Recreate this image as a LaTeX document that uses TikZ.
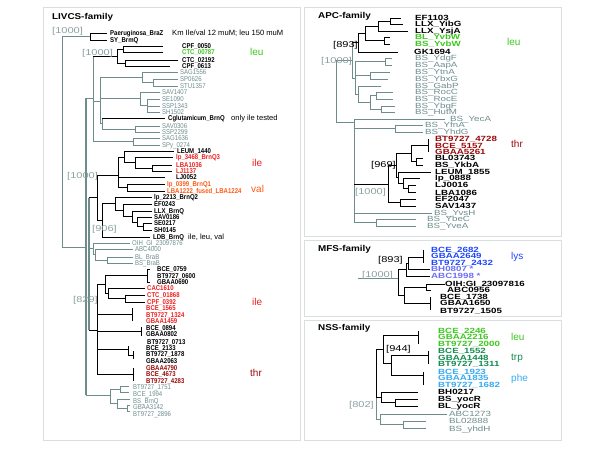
\documentclass[tikz,border=0pt]{standalone}
\usepackage{fontspec}
\setmainfont{Liberation Sans}
\newfontfamily\lfam[FakeStretch=0.86]{Liberation Sans}
\newfontfamily\rfam[FakeStretch=1.3]{Liberation Sans}
\newfontfamily\tfam[FakeStretch=1.16]{Liberation Sans}
\newfontfamily\afam{Liberation Sans}
\newcommand\lfb{\lfam\bfseries\fontsize{7}{8}\selectfont}
\newcommand\lfr{\lfam\fontsize{7}{8}\selectfont}
\newcommand\rfb{\rfam\bfseries\fontsize{7.5}{8}\selectfont}
\newcommand\rfr{\rfam\fontsize{7.5}{8}\selectfont}
\newcommand\brf{\rfam\fontsize{8.5}{9}\selectfont}
\newcommand\tf{\tfam\bfseries\fontsize{8.5}{9}\selectfont}
\newcommand\anf{\afam\fontsize{10}{11}\selectfont}
\newcommand\txf{\afam\fontsize{7.6}{8}\selectfont}
\definecolor{lg}{HTML}{6E8C8C}
\definecolor{bg}{HTML}{8CA0A0}
\definecolor{brd}{HTML}{D9DEDE}
\definecolor{leug}{HTML}{3CC81E}
\definecolor{iler}{HTML}{F01E1E}
\definecolor{valo}{HTML}{FF5A14}
\definecolor{thrr}{HTML}{9B0A0A}
\definecolor{lysb}{HTML}{1E46FF}
\definecolor{lysv}{HTML}{6E6EF5}
\definecolor{trpg}{HTML}{148C50}
\definecolor{pheb}{HTML}{37AAF0}
\newcounter{nn}
% label: [style]{colour}{x,y}{text}
\newcommand\lbl[4][L]{\stepcounter{nn}\node[#1,text=#2] (n\arabic{nn}) at (#3) {#4};}
\tikzset{
  b/.style={draw=black,line width=0.7pt},
  g/.style={draw=lg,line width=0.7pt},
  gk/.style={draw=lg,line width=1.3pt},
  panel/.style={draw=brd,line width=0.8pt},
  L/.style={anchor=base west,inner sep=0pt,yshift=-2.4pt,font=\lfb},
  LG/.style={anchor=base west,inner sep=0pt,yshift=-2.4pt,font=\lfr},
  R/.style={anchor=base west,inner sep=0pt,yshift=-2.6pt,font=\rfb},
  RG/.style={anchor=base west,inner sep=0pt,yshift=-2.6pt,font=\rfr},
  BR/.style={anchor=base west,inner sep=0pt,yshift=-3pt,font=\brf},
  TT/.style={anchor=base west,inner sep=0pt,yshift=-3pt,font=\tf},
  AN/.style={anchor=base west,inner sep=0pt,yshift=-3.5pt,font=\anf},
  TX/.style={anchor=base west,inner sep=0pt,yshift=-2.6pt,font=\txf},
}
\begin{document}
\begin{tikzpicture}[x=1pt,y=-1pt]
\useasboundingbox (0,0) rectangle (600,450);
% panels
\node[panel,minimum width=257pt,minimum height=433pt,anchor=north west,inner sep=0pt] (p1) at (43,7) {};
\node[panel,minimum width=257pt,minimum height=229pt,anchor=north west,inner sep=0pt] (p2) at (304,7) {};
\node[panel,minimum width=257pt,minimum height=76pt,anchor=north west,inner sep=0pt] (p3) at (304,240) {};
\node[panel,minimum width=257pt,minimum height=120pt,anchor=north west,inner sep=0pt] (p4) at (304,320) {};

%%%%%%%%%%%%%%%% LIVCS tree
\draw[b] (107,33) -| (90,40) -- (107,40);
\draw[g] (90,36.5) -| (62,247) -- (86,247);
\draw[gk] (86,98) -- (86,395);
\draw[g] (86,98) -- (93,98);
\draw[g] (93,56) -- (93,141);
\draw[b] (93,56) -- (117,56);
\draw[b] (123,49) -| (117,63) -- (125,63);
\draw[b] (163,46) -| (123,52) -- (163,52);
\draw[b] (178,60) -| (125,66) -- (170,66);
\draw[g] (93,101) -- (100,101);
\draw[g] (100,77) -- (100,123.5);
\draw[g] (100,77) -- (142,77);
\draw[g] (178,72) -| (142,82) -- (153,82);
\draw[g] (178,79) -| (153,86) -- (178,86);
\draw[g] (100,98.75) -- (140,98.75);
\draw[g] (160,92) -| (140,105.5) -- (147,105.5);
\draw[g] (147,99) -- (147,112);
\draw[g] (147,99) -- (160,99);
\draw[g] (147,106) -- (160,106);
\draw[g] (147,112) -- (160,112);
\draw[g] (100,123.5) -- (102,123.5);
\draw[g] (102,118) -- (102,129);
\draw[b] (102,118) -- (165,118);
\draw[g] (102,129) -- (135,129);
\draw[g] (160,126) -| (135,132) -- (160,132);
\draw[g] (93,141) -- (133,141);
\draw[g] (160,138) -| (133,145) -- (160,145);
\draw[gk] (89,197.5) -- (89,330);
% lactobacillales
\draw[b] (89,197.5) -- (97,197.5);
\draw[b] (97,175) -- (97,220);
\draw[b] (97,175) -- (118,175);
\draw[b] (118,157) -- (118,187.5);
\draw[b] (118,157) -- (124,157);
\draw[b] (174,151) -| (124,162.5) -- (135,162.5);
\draw[b] (173,157.5) -| (135,168) -- (152,168);
\draw[b] (172,165) -| (152,171) -- (172,171);
\draw[b] (118,177) -- (165,177);
\draw[b] (118,187.5) -- (127,187.5);
\draw[b] (165,184) -| (127,191) -- (165,191);
\draw[b] (97,220) -- (102,220);
\draw[b] (102,203.5) -- (102,237);
\draw[b] (102,237) -- (150,237);
\draw[b] (102,203.5) -- (115,203.5);
\draw[b] (152,197) -| (115,210) -- (123,210);
\draw[b] (152,204) -| (123,216.5) -- (132,216.5);
\draw[b] (152,211) -| (132,222) -- (137,222);
\draw[b] (152,217) -| (137,226.5) -- (143,226.5);
\draw[b] (152,223) -| (143,230) -- (152,230);
% BraB
\draw[g] (89,248.5) -- (93,248.5);
\draw[g] (130,243) -| (93,254) -- (95,254);
\draw[g] (133,249) -| (95,260) -- (107,260);
\draw[g] (133,257) -| (107,263) -- (133,263);
% Bacillus
\draw[b] (89,330) -- (97,330);
\draw[b] (97,284) -- (97,374.5);
\draw[b] (97,284) -- (105,284);
\draw[b] (147,275.5) -| (105,293) -- (108,293);
\draw[b] (147,269) -- (147,282);
\draw[b] (147,269) -- (150,269);
\draw[b] (147,282) -- (150,282);
\draw[b] (145,288) -| (108,298.5) -- (125,298.5);
\draw[b] (145,295) -| (125,302) -- (145,302);
\draw[b] (97,314.5) -- (132,314.5);
\draw[b] (132,308) -- (132,321);
\draw[b] (97,331) -- (141,331);
\draw[b] (141,327) -- (141,336);
\draw[b] (97,349) -- (128,349);
\draw[b] (128,346) -- (128,355) -- (133,355);
\draw[b] (133,351) -- (133,359);
\draw[b] (97,374.5) -- (133,374.5);
\draw[b] (133,368) -- (133,381);
% bottom grey
\draw[g] (86,395) -- (110,395);
\draw[g] (110,389) -- (110,403.5);
\draw[g] (110,389) -- (120,389);
\draw[g] (129,386.5) -| (120,392.5) -- (129,392.5);
\draw[g] (110,403.5) -- (117,403.5);
\draw[g] (130,399) -| (117,408) -- (127,408);
\draw[g] (130,405) -| (127,411) -- (130,411);

%%%%%%%%%%%%%%%% APC tree
\draw[b] (401,18) -| (390,24) -- (403,24);
\draw[b] (390,21) -| (378,31) -- (408,31);
\draw[b] (378,26) -| (365,40.5) -- (384,40.5);
\draw[b] (390,37) -| (384,44) -- (390,44);
\draw[b] (365,33) -| (358,52) -- (398,52);
\draw[b] (358,42.5) -- (352,42.5);
\draw[g] (352,42.5) -- (352,78) -- (355,78);
\draw[g] (355,61.5) -- (355,94);
\draw[g] (355,61.5) -- (385,61.5);
\draw[g] (392,58) -| (385,65) -- (392,65);
\draw[g] (355,75.5) -- (370,75.5);
\draw[g] (390,72) -| (370,79) -- (388,79);
\draw[g] (355,94) -- (358,94);
\draw[g] (381,86) -| (358,102) -- (370,102);
\draw[g] (376,95.5) -| (370,109) -- (381,109);
\draw[g] (393,92) -| (376,99) -- (393,99);
\draw[g] (395,106) -| (381,112) -- (395,112);
\draw[g] (352,60) -| (336,122) -- (354,122);
\draw[g] (354,119) -- (354,222.5);
\draw[g] (354,119) -- (445,119);
\draw[g] (354,128.5) -- (395,128.5);
\draw[g] (423,125) -| (395,132) -- (423,132);
\draw[g] (354,213) -- (432,213);
\draw[g] (354,222.5) -- (376,222.5);
\draw[g] (416,219) -| (376,226) -- (416,226);
\draw[b] (354,184) -- (388,184);
\draw[b] (396,165.5) -| (388,202.5) -- (400,202.5);
\draw[b] (416,199) -| (400,206) -- (416,206);
\draw[b] (411,153.5) -| (396,177.5) -- (398,177.5);
\draw[b] (428,145.5) -| (411,161.5) -- (416,161.5);
\draw[b] (428,139) -- (428,152);
\draw[b] (423,158) -| (416,165) -- (423,165);
\draw[b] (431,172) -| (398,183) -- (403,183);
\draw[b] (420,178) -| (403,188.5) -- (408,188.5);
\draw[b] (416,185) -| (408,192) -- (416,192);

%%%%%%%%%%%%%%%% MFS tree
\draw[g] (358,278) -- (398,278);
\draw[b] (398,269.5) -- (398,295);
\draw[b] (398,269.5) -- (406,269.5);
\draw[b] (408,263) -| (406,276) -- (430,276);
\draw[b] (423,257) -| (408,269) -- (430,269);
\draw[b] (423,250) -- (423,263);
\draw[b] (398,295) -- (404,295);
\draw[b] (426,287) -| (404,303.5) -- (430,303.5);
\draw[b] (445,284) -| (426,290) -- (431,290);
\draw[b] (430,297) -- (430,310);

%%%%%%%%%%%%%%%% NSS tree
\draw[b] (376,349) -- (376,397);
\draw[g] (376,397) -- (376,419);
\draw[b] (376,349) -- (383,349);
\draw[b] (418,335) -| (383,363) -- (391,363);
\draw[b] (418,331) -- (418,344);
\draw[b] (428,355) -| (391,375) -- (423,375);
\draw[b] (428,351) -- (428,364);
\draw[b] (423,372) -- (423,385);
\draw[b] (376,397) -- (381,397);
\draw[b] (418,392) -| (381,402.5) -- (395,402.5);
\draw[b] (418,399) -| (395,406) -- (418,406);
\draw[g] (376,419) -- (380,419);
\draw[g] (447,414) -| (380,424.5) -- (403,424.5);
\draw[g] (426,421) -| (403,428) -- (426,428);

%%%%%%%%%%%%%%%% LIVCS labels
\lbl[TT]{black}{52,16}{LIVCS-family}
\lbl[BR]{bg}{52,30}{[1000]}
\lbl[BR]{bg}{82,52}{[1000]}
\lbl[BR]{bg}{67,175}{[1000]}
\lbl[BR]{bg}{92,228}{[906]}
\lbl[BR]{bg}{73,299}{[829]}
\lbl{black}{110,33}{Paeruginosa\_BraZ}
\lbl{black}{110,40}{SY\_BrmQ}
\lbl[TX]{black}{172,33}{Km Ile/val 12 muM; leu 150 muM}
\lbl{black}{182,46}{CPF\_0050}
\lbl{leug}{182,52}{CTC\_00787}
\lbl{black}{182,60}{CTC\_02192}
\lbl{black}{182,66}{CPF\_0613}
\lbl[AN]{leug}{250,52}{leu}
\lbl[LG]{lg}{180,72}{SAG1556}
\lbl[LG]{lg}{180,79}{SP0626}
\lbl[LG]{lg}{180,86}{STU1357}
\lbl[LG]{lg}{162,92}{SAV1407}
\lbl[LG]{lg}{162,99}{SE1090}
\lbl[LG]{lg}{162,106}{SSP1343}
\lbl[LG]{lg}{162,112}{SH1502}
\lbl{black}{168,118}{Cglutamicum\_BrnQ}
\lbl[TX]{black}{231,118}{only ile tested}
\lbl[LG]{lg}{162,126}{SAV0306}
\lbl[LG]{lg}{162,132}{SSP2299}
\lbl[LG]{lg}{162,138}{SAG1636}
\lbl[LG]{lg}{162,145}{SPy\_0274}
\lbl{black}{177,151}{LEUM\_1440}
\lbl{iler}{176,157.5}{lp\_3468\_BrnQ3}
\lbl{iler}{176,165}{LBA1036}
\lbl{iler}{176,171}{LJ1137}
\lbl{black}{176,177}{LJ0052}
\lbl{valo}{167,184}{lp\_0399\_BrnQ1}
\lbl{valo}{167,191}{LBA1222\_fused\_LBA1224}
\lbl[AN]{iler}{252,163}{ile}
\lbl[AN]{valo}{251,189}{val}
\lbl{black}{154,197}{lp\_2213\_BrnQ2}
\lbl{black}{154,204}{EF0243}
\lbl{black}{154,211}{LLX\_BrnQ}
\lbl{black}{154,217}{SAV0186}
\lbl{black}{154,223}{SE0217}
\lbl{black}{154,230}{SH0145}
\lbl{black}{153,237}{LDB\_BrnQ}
\lbl[TX]{black}{188,237}{ile, leu, val}
\lbl[LG]{lg}{132,243}{OIH\_GI\_23097876}
\lbl[LG]{lg}{135,249}{ABC4000}
\lbl[LG]{lg}{135,257}{BL\_BraB}
\lbl[LG]{lg}{135,263}{BS\_BraB}
\lbl{black}{157,269}{BCE\_0759}
\lbl{black}{157,276}{BT9727\_0600}
\lbl{black}{157,282}{GBAA0690}
\lbl{iler}{147,288}{CAC1610}
\lbl{iler}{147,295}{CTC\_01868}
\lbl{iler}{147,302}{CPF\_0392}
\lbl{iler}{146,308}{BCE\_1565}
\lbl{iler}{146,315}{BT9727\_1324}
\lbl{iler}{146,321}{GBAA1459}
\lbl[AN]{iler}{252,302}{ile}
\lbl{black}{146,328}{BCE\_0894}
\lbl{black}{146,334}{GBAA0802}
\lbl{black}{147,342}{BT9727\_0713}
\lbl{black}{146,348}{BCE\_2133}
\lbl{black}{146,354}{BT9727\_1878}
\lbl{black}{146,361}{GBAA2063}
\lbl{thrr}{146,368}{GBAA4790}
\lbl{thrr}{146,374}{BCE\_4673}
\lbl{thrr}{146,381}{BT9727\_4283}
\lbl[AN]{thrr}{250,373}{thr}
\lbl[LG]{lg}{133,387}{BT9727\_1751}
\lbl[LG]{lg}{133,394}{BCE\_1994}
\lbl[LG]{lg}{133,401}{BS\_BrnQ}
\lbl[LG]{lg}{133,407}{GBAA3142}
\lbl[LG]{lg}{133,414}{BT9727\_2896}

%%%%%%%%%%%%%%%% APC labels
\lbl[TT]{black}{318,15}{APC-family}
\lbl[BR]{black}{333,44}{[893]}
\lbl[BR]{bg}{321,60}{[1000]}
\lbl[BR]{black}{371,164}{[969]}
\lbl[BR]{bg}{355,191}{[1000]}
\lbl[R]{black}{415,18}{EF1103}
\lbl[R]{black}{415,24}{LLX\_YibG}
\lbl[R]{black}{415,31}{LLX\_YsjA}
\lbl[R]{leug}{415,37}{BL\_YvbW}
\lbl[R]{leug}{415,44}{BS\_YvbW}
\lbl[R]{black}{414,52}{GK1694}
\lbl[AN]{leug}{507,42}{leu}
\lbl[RG]{lg}{415,58}{BS\_YdgF}
\lbl[RG]{lg}{415,65}{BS\_AapA}
\lbl[RG]{lg}{415,72}{BS\_YtnA}
\lbl[RG]{lg}{415,79}{BS\_YbxG}
\lbl[RG]{lg}{415,86}{BS\_GabP}
\lbl[RG]{lg}{415,92}{BS\_RocC}
\lbl[RG]{lg}{415,99}{BS\_RocE}
\lbl[RG]{lg}{415,106}{BS\_YbgF}
\lbl[RG]{lg}{415,112}{BS\_HutM}
\lbl[RG]{lg}{450,119}{BS\_YecA}
\lbl[RG]{lg}{425,125}{BS\_YfnA}
\lbl[RG]{lg}{425,132}{BS\_YhdG}
\lbl[R]{thrr}{435,139}{BT9727\_4728}
\lbl[R]{thrr}{435,146}{BCE\_5157}
\lbl[R]{thrr}{435,152}{GBAA5261}
\lbl[AN]{thrr}{511,144}{thr}
\lbl[R]{black}{435,158}{BL03743}
\lbl[R]{black}{435,165}{BS\_YkbA}
\lbl[R]{black}{435,172}{LEUM\_1855}
\lbl[R]{black}{435,178}{lp\_0888}
\lbl[R]{black}{435,185}{LJ0016}
\lbl[R]{black}{435,193}{LBA1086}
\lbl[R]{black}{435,199}{EF2047}
\lbl[R]{black}{435,206}{SAV1437}
\lbl[RG]{lg}{434,213}{BS\_YvsH}
\lbl[RG]{lg}{427,219}{BS\_YbeC}
\lbl[RG]{lg}{427,226}{BS\_YveA}

%%%%%%%%%%%%%%%% MFS labels
\lbl[TT]{black}{318,248}{MFS-family}
\lbl[BR]{black}{378,259}{[893]}
\lbl[BR]{bg}{362,274}{[1000]}
\lbl[R]{lysb}{431,250}{BCE\_2682}
\lbl[R]{lysb}{431,256}{GBAA2649}
\lbl[R]{lysb}{431,263}{BT9727\_2432}
\lbl[R]{lysv}{431,269}{BH0807 *}
\lbl[R]{lysv}{431,276}{ABC1998 *}
\lbl[AN]{lysb}{511,256}{lys}
\lbl[R]{black}{445,284}{OIH:GI\_23097816}
\lbl[R]{black}{447,290}{ABC0956}
\lbl[R]{black}{440,297}{BCE\_1738}
\lbl[R]{black}{440,303}{GBAA1650}
\lbl[R]{black}{440,311}{BT9727\_1505}

%%%%%%%%%%%%%%%% NSS labels
\lbl[TT]{black}{318,327}{NSS-family}
\lbl[BR]{black}{386,348}{[944]}
\lbl[BR]{bg}{349,404}{[802]}
\lbl[R]{leug}{438,331}{BCE\_2246}
\lbl[R]{leug}{438,337}{GBAA2216}
\lbl[R]{leug}{438,344}{BT9727\_2000}
\lbl[AN]{leug}{511,337}{leu}
\lbl[R]{trpg}{438,351}{BCE\_1552}
\lbl[R]{trpg}{438,358}{GBAA1448}
\lbl[R]{trpg}{438,364}{BT9727\_1311}
\lbl[AN]{trpg}{511,357}{trp}
\lbl[R]{pheb}{438,372}{BCE\_1923}
\lbl[R]{pheb}{438,378}{GBAA1835}
\lbl[R]{pheb}{438,385}{BT9727\_1682}
\lbl[AN]{pheb}{511,378}{phe}
\lbl[R]{black}{438,392}{BH0217}
\lbl[R]{black}{438,399}{BS\_yocR}
\lbl[R]{black}{438,406}{BL\_yocR}
\lbl[RG]{lg}{449,414}{ABC1273}
\lbl[RG]{lg}{449,421}{BL02888}
\lbl[RG]{lg}{449,429}{BS\_yhdH}
\end{tikzpicture}
\end{document}
